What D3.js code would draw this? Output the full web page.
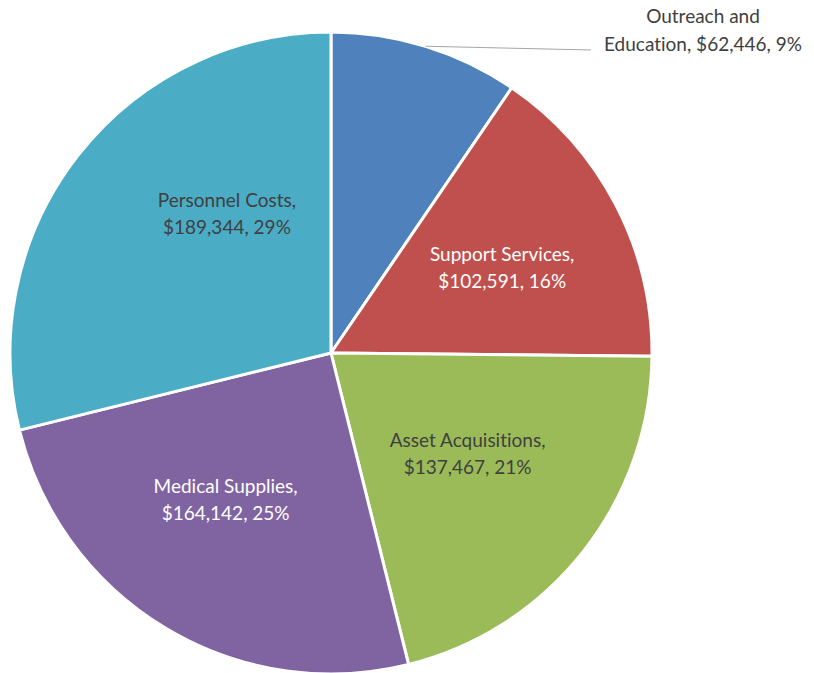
<!DOCTYPE html>
<html>
<head>
<meta charset="utf-8">
<script src="https://cdn.jsdelivr.net/npm/d3@7"></script>
<style>
  body { margin: 0; background: #fff; }
  text { font-family: Lato, "Noto Sans", sans-serif; font-size: 19px; font-variant-ligatures: none; }
</style>
</head>
<body>
<div id="piechart"></div>
<script>
// chart data
const categories = ["Outreach and Education", "Support Services", "Asset Acquisitions", "Medical Supplies", "Personnel Costs"];
const amounts = [62446, 102591, 137467, 164142, 189344];
const colours = ["#4F81BD", "#C0504D", "#9BBB59", "#8064A2", "#4BACC6"];
const labelColours = ["#404040", "#ffffff", "#404040", "#ffffff", "#404040"];

// label lines as shown in the picture
const labelLines = [
    ["Outreach and", "Education, $62,446, 9%"],
    ["Support Services,", "$102,591, 16%"],
    ["Asset Acquisitions,", "$137,467, 21%"],
    ["Medical Supplies,", "$164,142, 25%"],
    ["Personnel Costs,", "$189,344, 29%"]
];

// layout
const width = 814;
const height = 673;
const centre = { x: 331, y: 353 };
const radius = 321;
// small nudges from the centroid, like excel does
const nudges = [[0, 0], [9, 0], [-7, -12], [-11, -9], [40, -26]];

const svg = d3.select('#piechart')
    .append('svg')
    .attr('width', width)
    .attr('height', height);

const g = svg.append('g')
    .attr('transform', `translate(${centre.x},${centre.y})`);

const pie = d3.pie().sort(null).value(d => d);
const arcs = pie(amounts);

const arc = d3.arc().innerRadius(0).outerRadius(radius);
const labelArc = d3.arc().innerRadius(radius * 0.57).outerRadius(radius * 0.57);

g.selectAll('.slice')
    .data(arcs)
    .enter()
    .append('path')
    .attr('class', 'slice')
    .attr('d', arc)
    .attr('fill', (d, i) => colours[i])
    .attr('stroke', '#fff')
    .attr('stroke-width', 3)
    .attr('stroke-linejoin', 'round');

// inside labels (all but the first slice)
const lineHeight = 27;
arcs.forEach((d, i) => {
    if (i === 0) return;
    const c = labelArc.centroid(d);
    const x = c[0] + nudges[i][0];
    const y = c[1] + nudges[i][1];
    const t = g.append('text')
        .attr('text-anchor', 'middle')
        .attr('fill', labelColours[i])
        .attr('x', x)
        .attr('y', y - lineHeight / 2 + 6);
    labelLines[i].forEach((line, j) => {
        t.append('tspan')
            .attr('x', x)
            .attr('dy', j === 0 ? 0 : lineHeight)
            .text(line);
    });
});

// outside label for the small slice, with leader line
const first = arcs[0];
const midAngle = (first.startAngle + first.endAngle) / 2;
const edge = [radius * Math.sin(midAngle), -radius * Math.cos(midAngle)];
const labelX = 703 - centre.x;
const labelY = 17 - centre.y;

g.append('line')
    .attr('x1', edge[0])
    .attr('y1', edge[1])
    .attr('x2', 591 - centre.x)
    .attr('y2', 50 - centre.y)
    .attr('stroke', '#a6a6a6')
    .attr('stroke-width', 1);

const outer = g.append('text')
    .attr('text-anchor', 'middle')
    .attr('fill', labelColours[0])
    .attr('x', labelX)
    .attr('y', labelY + 6);
labelLines[0].forEach((line, j) => {
    outer.append('tspan')
        .attr('x', labelX)
        .attr('dy', j === 0 ? 0 : 28)
        .text(line);
});
</script>
</body>
</html>
